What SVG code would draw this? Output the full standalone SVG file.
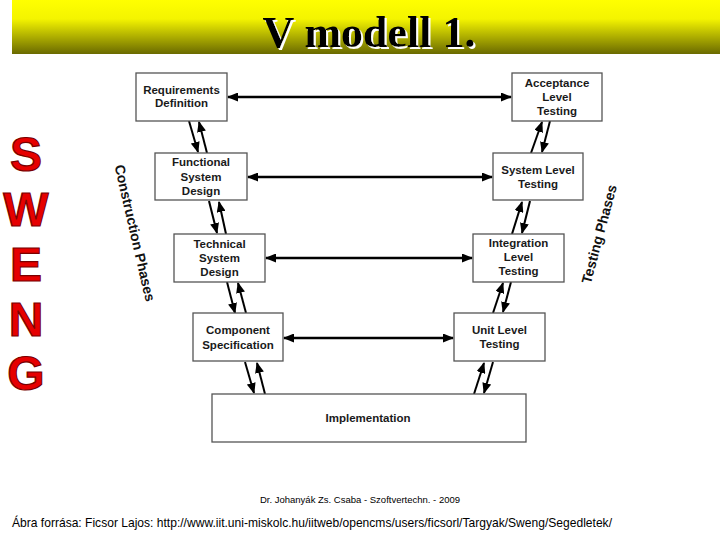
<svg xmlns="http://www.w3.org/2000/svg" width="720" height="540" viewBox="0 0 720 540">
<defs>
<linearGradient id="tg" x1="0" y1="0" x2="0" y2="1">
<stop offset="0" stop-color="#ffff00"/>
<stop offset="0.35" stop-color="#f4f400"/>
<stop offset="1" stop-color="#6a6a00"/>
</linearGradient>
<filter id="ws" x="-5%" y="-20%" width="110%" height="140%">
<feOffset in="SourceAlpha" dx="2" dy="2" result="o"/>
<feFlood flood-color="#fff"/>
<feComposite in2="o" operator="in" result="w"/>
<feMerge><feMergeNode in="w"/><feMergeNode in="SourceGraphic"/></feMerge>
</filter>
<marker id="ah" markerUnits="userSpaceOnUse" markerWidth="11" markerHeight="9" refX="10" refY="4.5" orient="auto-start-reverse" viewBox="0 0 11 9">
<path d="M0,0 L11,4.5 L0,9 z" fill="#000"/>
</marker>
</defs>
<style>
.box{fill:#fff;stroke:#555;stroke-width:1.3}
.bt{font-family:"Liberation Sans",Arial,sans-serif;font-weight:bold;font-size:11.5px;fill:#1a1a1a;text-anchor:middle}
.h{stroke:#000;stroke-width:2.5;fill:none;marker-start:url(#ah);marker-end:url(#ah)}
.s{stroke:#000;stroke-width:2;fill:none;marker-end:url(#ah)}
.sw{font-family:"Liberation Sans",Arial,sans-serif;font-weight:bold;font-size:48px;fill:#e60000;stroke:#7a0000;stroke-width:1.2;text-anchor:middle}
.ph{font-family:"Liberation Sans",Arial,sans-serif;font-weight:bold;font-size:14px;fill:#111;text-anchor:middle}
</style>
<rect x="0" y="0" width="720" height="540" fill="#fff"/>
<g id="title">
<rect x="12" y="0" width="708" height="54" fill="url(#tg)"/>
<text x="369" y="47" font-family="Liberation Serif,'Times New Roman',serif" font-weight="bold" font-size="44" fill="#000" text-anchor="middle" filter="url(#ws)">V modell 1.</text>
</g>
<g id="sweng">
<text class="sw" x="26" y="171">S</text>
<text class="sw" x="26" y="226">W</text>
<text class="sw" x="26" y="281">E</text>
<text class="sw" x="26" y="336">N</text>
<text class="sw" x="26" y="390">G</text>
</g>
<g id="connectors">
<line class="h" x1="228" y1="97" x2="511" y2="97"/>
<line class="h" x1="248" y1="177" x2="492" y2="177"/>
<line class="h" x1="266" y1="258" x2="472" y2="258"/>
<line class="h" x1="284" y1="338" x2="453" y2="338"/>
<line class="s" x1="189" y1="121" x2="198" y2="152"/>
<line class="s" x1="207" y1="153" x2="199" y2="122"/>
<line class="s" x1="209" y1="201" x2="217" y2="233"/>
<line class="s" x1="226" y1="234" x2="219" y2="202"/>
<line class="s" x1="227" y1="282" x2="235" y2="313"/>
<line class="s" x1="246" y1="313" x2="238" y2="283"/>
<line class="s" x1="245" y1="362" x2="254" y2="393"/>
<line class="s" x1="265" y1="394" x2="257" y2="363"/>
<line class="s" x1="531" y1="153" x2="542" y2="122"/>
<line class="s" x1="550" y1="121" x2="542" y2="152"/>
<line class="s" x1="512" y1="234" x2="522" y2="202"/>
<line class="s" x1="530" y1="201" x2="522" y2="233"/>
<line class="s" x1="493" y1="313" x2="503" y2="283"/>
<line class="s" x1="511" y1="282" x2="503" y2="312"/>
<line class="s" x1="474" y1="394" x2="484" y2="363"/>
<line class="s" x1="493" y1="362" x2="484" y2="393"/>
</g>
<g id="req"><rect class="box" x="136" y="73" width="91" height="48"/><text class="bt" x="181.5" y="94">Requirements</text><text class="bt" x="181.5" y="107">Definition</text></g>
<g id="func"><rect class="box" x="155" y="153" width="92" height="47"/><text class="bt" x="201" y="166">Functional</text><text class="bt" x="201" y="181">System</text><text class="bt" x="201" y="195">Design</text></g>
<g id="tech"><rect class="box" x="174" y="234" width="91" height="48"/><text class="bt" x="219.5" y="248">Technical</text><text class="bt" x="219.5" y="262">System</text><text class="bt" x="219.5" y="276">Design</text></g>
<g id="comp"><rect class="box" x="193" y="313" width="90" height="48"/><text class="bt" x="238" y="334">Component</text><text class="bt" x="238" y="349">Specification</text></g>
<g id="impl"><rect class="box" x="212" y="394" width="314" height="48"/><text class="bt" x="368" y="422">Implementation</text></g>
<g id="acc"><rect class="box" x="512" y="73" width="90" height="48"/><text class="bt" x="557" y="87">Acceptance</text><text class="bt" x="557" y="101">Level</text><text class="bt" x="557" y="115">Testing</text></g>
<g id="sys"><rect class="box" x="493" y="153" width="90" height="47"/><text class="bt" x="538" y="174">System Level</text><text class="bt" x="538" y="188">Testing</text></g>
<g id="integ"><rect class="box" x="473" y="234" width="91" height="48"/><text class="bt" x="518.5" y="247">Integration</text><text class="bt" x="518.5" y="261">Level</text><text class="bt" x="518.5" y="275">Testing</text></g>
<g id="unit"><rect class="box" x="454" y="313" width="91" height="48"/><text class="bt" x="499.5" y="334">Unit Level</text><text class="bt" x="499.5" y="348">Testing</text></g>
<g id="phases">
<text class="ph" transform="translate(135,233) rotate(77)" y="5">Construction Phases</text>
<text class="ph" transform="translate(599,234) rotate(-75)" y="5">Testing Phases</text>
</g>
<g id="footer">
<text x="360" y="503" font-family="Liberation Sans,Arial,sans-serif" font-size="9.5" fill="#000" text-anchor="middle">Dr. Johanyák Zs. Csaba - Szoftvertechn. - 2009</text>
<text x="12" y="527" font-family="Liberation Sans,Arial,sans-serif" font-size="13.5" fill="#000" textLength="600" lengthAdjust="spacingAndGlyphs">Ábra forrása: Ficsor Lajos: http://www.iit.uni-miskolc.hu/iitweb/opencms/users/ficsorl/Targyak/Sweng/Segedletek/</text>
</g>
</svg>
